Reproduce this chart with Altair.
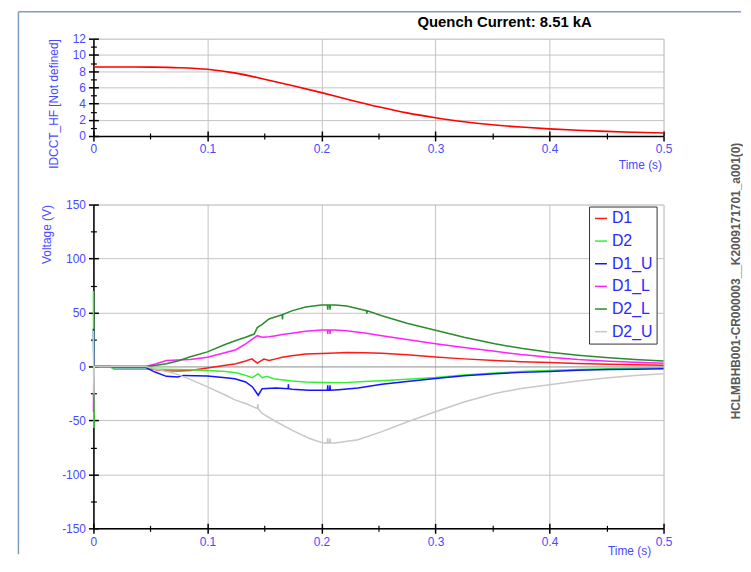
import altair as alt
import pandas as pd

FONT = "Liberation Sans"
TITLE = "Quench Current: 8.51 kA"
SIDE_TEXT = "HCLMBHB001-CR000003__K2009171701_a001(0)"

# ---------------- top panel: current ----------------
t_top = [0, 0.025, 0.05, 0.075, 0.1, 0.125, 0.15, 0.175, 0.2, 0.225, 0.25,
         0.275, 0.3, 0.325, 0.35, 0.375, 0.4, 0.425, 0.45, 0.475, 0.5]
i_top = [8.51, 8.51, 8.49, 8.42, 8.22, 7.75, 7.0, 6.2, 5.35, 4.45, 3.6,
         2.85, 2.25, 1.75, 1.38, 1.1, 0.88, 0.7, 0.57, 0.46, 0.37]

# ---------------- bottom panel: voltages ----------------
series_names = ["D1", "D2", "D1_U", "D1_L", "D2_L", "D2_U"]
series_colors = ["#ff1a1a", "#33ee33", "#1414ff", "#ff22ff", "#2a8c2a", "#c8c8c8"]

t_d1 = [0, 0.046, 0.055, 0.064, 0.074, 0.085, 0.1, 0.116, 0.125, 0.1335,
        0.139, 0.1437, 0.1495, 0.154, 0.16, 0.1655, 0.174, 0.186, 0.2,
        0.212, 0.222, 0.238, 0.253, 0.275, 0.3,
        0.325, 0.352, 0.375, 0.4, 0.425, 0.452, 0.475, 0.5]
v_d1 = [0, 0, -3, -4, -4.3, -3.7, -1.5, 1, 2.5, 5,
        7, 3, 6.8, 5.5, 7, 8.5, 10, 11.5, 12,
        12.5, 12.9, 12.7, 12.3, 10.8, 8.8,
        7, 5.5, 4.4, 3.6, 2.7, 2, 1.6, 1.2]

t_d2 = [0, 0.0004, 0.0008, 0.014, 0.018, 0.046, 0.055, 0.085, 0.1, 0.116,
        0.125, 0.1335, 0.1395, 0.1445, 0.148, 0.152, 0.158, 0.174, 0.186, 0.203,
        0.22, 0.238, 0.256, 0.275, 0.3, 0.325, 0.352, 0.375, 0.4, 0.425,
        0.452, 0.475, 0.5]
v_d2 = [70, -57, 0, 0, -2.5, -2.5, -2.5, -3, -3.7, -4.6,
        -5.8, -8.3, -10.4, -6.7, -10.4, -9.2, -11.4, -13.5, -14.4, -14.8,
        -15, -14, -13, -11.8, -10.2, -8, -6.1, -4.8, -3.7, -2.8,
        -2.1, -1.6, -1.2]

t_d1u = [0, 0.0004, 0.0008, 0.015, 0.018, 0.046, 0.054, 0.064, 0.074, 0.079,
         0.1, 0.116, 0.124, 0.1335, 0.1395, 0.1445, 0.148, 0.16, 0.1708, 0.171,
         0.1712, 0.174, 0.189, 0.203, 0.2052, 0.2055, 0.2058, 0.2072, 0.2075, 0.2078,
         0.215, 0.232, 0.253, 0.275, 0.3, 0.325, 0.352, 0.375, 0.4, 0.425,
         0.452, 0.475, 0.5]
v_d1u = [35, 0, 0, 0, -1, -1, -5.2, -9.2, -9.8, -8.3,
         -8.8, -10.5, -11.5, -14.4, -19, -26.7, -20.6, -20, -20.6, -16.5,
         -20.6, -21.2, -22, -22, -22, -17.5, -22, -22, -17.5, -22,
         -21.5, -20, -16.5, -14, -11.2, -8.6, -6.7, -5.5, -4.6, -3.6,
         -2.9, -2.5, -2.1]

t_d1l = [0, 0.0004, 0.046, 0.055, 0.064, 0.074, 0.085, 0.1, 0.116, 0.125, 0.1335,
         0.139, 0.1437, 0.148, 0.154, 0.16, 0.1655, 0.174, 0.186, 0.2,
         0.2052, 0.2055, 0.2058, 0.2072, 0.2075, 0.2078,
         0.212, 0.222, 0.238, 0.253, 0.275, 0.3,
         0.325, 0.352, 0.375, 0.4, 0.425, 0.452, 0.475, 0.5]
v_d1l = [-42, 0, 0, 2.5, 5.5, 6, 6.5, 8.6, 13, 15.5, 20.9,
         25, 28.5, 27, 27.5, 28.5, 29.5, 30.7, 32.5, 33.7,
         33.7, 30, 33.7, 33.7, 30, 33.7,
         33.7, 33, 31, 28.5, 25, 21,
         17.5, 14, 11, 8.6, 6.5, 4.9, 3.8, 3]

t_d2l = [0, 0.046, 0.055, 0.064, 0.074, 0.085, 0.1, 0.116, 0.125, 0.1335,
         0.141, 0.1437, 0.148, 0.154, 0.16, 0.1655, 0.1658, 0.1661, 0.174, 0.186,
         0.2, 0.2052, 0.2055, 0.2058, 0.2072, 0.2075, 0.2078, 0.212, 0.222, 0.238,
         0.2395, 0.2398, 0.2401, 0.253, 0.275, 0.3, 0.325, 0.352, 0.375, 0.4,
         0.425, 0.452, 0.475, 0.5]
v_d2l = [0, 0, 1, 2.5, 5, 9, 13.5, 20.5, 24, 27,
         30, 36, 39, 44, 46, 47.8, 43.5, 48, 51.5, 55,
         57, 57, 52.5, 57, 57, 52.5, 57, 57, 56, 52,
         51.5, 49, 51.5, 47, 40, 33.5, 27, 21, 16.8, 13.2,
         10.4, 8, 6.4, 5]

t_d2u = [0, 0.0004, 0.0008, 0.046, 0.055, 0.07, 0.085, 0.1, 0.116, 0.124,
         0.1335, 0.1437, 0.1442, 0.1447, 0.148, 0.16, 0.174, 0.189, 0.2, 0.2052,
         0.2055, 0.2058, 0.2072, 0.2075, 0.2078, 0.212, 0.232, 0.253, 0.275, 0.3,
         0.325, 0.352, 0.375, 0.4, 0.425, 0.452, 0.475, 0.5]
v_d2u = [33, -25, 0, 0, -2.5, -6, -12, -19, -26.7, -31,
         -34.4, -39, -35, -39.5, -43.6, -51, -59, -66.5, -70.5, -71,
         -66.5, -71, -71, -66.5, -71, -71, -68, -60.4, -51.5, -42,
         -33, -25, -20.5, -17, -13.5, -10.4, -8.4, -6.7]

series_t = {"D1": t_d1, "D2": t_d2, "D1_U": t_d1u, "D1_L": t_d1l, "D2_L": t_d2l, "D2_U": t_d2u}
series_v = {"D1": v_d1, "D2": v_d2, "D1_U": v_d1u, "D1_L": v_d1l, "D2_L": v_d2l, "D2_U": v_d2u}

# axis ticks
x_major = [0, 0.1, 0.2, 0.3, 0.4, 0.5]
x_minor = [0.05, 0.15, 0.25, 0.35, 0.45]
top_y_major = [0, 2, 4, 6, 8, 10, 12]
top_y_minor = [1, 3, 5, 7, 9, 11]
bot_y_major = [-150, -100, -50, 0, 50, 100, 150]
bot_y_minor = [-125, -75, -25, 25, 75, 125]

# ---------------- tables ----------------
top_df = pd.DataFrame({"t": t_top, "I": i_top})
rows = []
for name in series_names:
    assert len(series_t[name]) == len(series_v[name]), name
    for t, v in zip(series_t[name], series_v[name]):
        rows.append({"s": name, "t": t, "v": v})
bot_df = pd.DataFrame(rows)

AX_BLUE = "#4848ff"
GRID = "#c4c4c4"
FRAME = "#7f9cc4"


def main_axis(orient, values, fmt, title, **kw):
    return alt.Axis(orient=orient, values=values, format=fmt, title=title,
                    tickSize=5, tickWidth=1.5, tickColor="black",
                    domain=True, domainColor="black", domainWidth=1.5,
                    grid=True, gridWidth=1,
                    labels=True, labelColor=AX_BLUE, labelFontSize=12, labelFont=FONT,
                    labelPadding=3, labelFlush=False, labelOverlap=False,
                    titleColor=AX_BLUE, titleFontSize=12, titleFont=FONT,
                    titleFontWeight="normal", titleAlign="right", titleBaseline="middle",
                    **kw)


def tick_axis(orient, values, size, offset):
    return alt.Axis(orient=orient, values=values, tickSize=size, offset=offset,
                    tickWidth=1.5 if size > 4 else 1.2, tickColor="black",
                    domain=False, grid=False, labels=False, title=None)


def tick_layers(df, xf, yf, xs, ys, xmaj, xmin, ymaj, ymin):
    specs = [(xmaj, ymaj, 5, -5), (xmin, ymin, 3, 0), (xmin, ymin, 3, -3)]
    out = []
    for xv, yv, size, off in specs:
        out.append(alt.Chart(df).mark_point(opacity=0).encode(
            x=alt.X(xf, scale=xs, axis=tick_axis("bottom", xv, size, off)),
            y=alt.Y(yf, scale=ys, axis=tick_axis("left", yv, size, off))))
    return out


W = 574
# ---------------- top chart ----------------
xs_t = alt.Scale(domain=[0, 0.5], nice=False)
ys_t = alt.Scale(domain=[0, 12], nice=False, zero=False)

top_line = alt.Chart(top_df).mark_line(color="#ff0000", strokeWidth=1.6, interpolate="monotone").encode(
    x=alt.X("t:Q", scale=xs_t,
            axis=main_axis("bottom", x_major, ".1~f", "Time (s)", gridColor=GRID,
                           titleX=572, titleY=29)),
    y=alt.Y("I:Q", scale=ys_t,
            axis=main_axis("left", top_y_major, "d", "IDCCT_HF [Not defined]", gridColor=GRID,
                           titleX=-40, titleY=0)),
)
top_title = alt.Chart(pd.DataFrame({"txt": [TITLE]})).mark_text(
    fontSize=15, fontWeight="bold", color="black", font=FONT, align="center", baseline="middle"
).encode(text="txt:N", x=alt.value(414), y=alt.value(-17))

top = alt.layer(
    top_line, *tick_layers(top_df, "t:Q", "I:Q", xs_t, ys_t, x_major, x_minor, top_y_major, top_y_minor),
    top_title,
).resolve_axis(x="independent", y="independent").properties(width=W, height=98)

# ---------------- bottom chart ----------------
xs_b = alt.Scale(domain=[0, 0.5], nice=False)
ys_b = alt.Scale(domain=[-150, 150], nice=False, zero=False)
cscale = alt.Scale(domain=series_names, range=series_colors)
# the legend is placed in the concat's frame (origin = top panel's plot origin)
legend = alt.Legend(orient="none", legendX=499, legendY=169, title=None,
                    symbolType="stroke", symbolSize=144, symbolStrokeWidth=1.5,
                    labelFontSize=16, labelFont=FONT, labelColor="#2a2aff",
                    fillColor="white", strokeColor="#333333", padding=4, rowPadding=6.8,
                    labelOffset=3, labelExpr="datum.label + '\u00a0\u00a0'")

line_layers = []
for k, name in enumerate(series_names):
    if k == 0:
        xax = main_axis("bottom", x_major, ".1~f", "Time (s)", gridColor=GRID,
                        titleX=561, titleY=22)
        yax = main_axis("left", bot_y_major, "d", "Voltage (V)",
                        gridColor={"condition": {"test": "datum.value === 0", "value": "#8c8c8c"},
                                   "value": GRID},
                        labelExpr="toString(datum.value)",
                        titleX=-47, titleY=0)
    else:
        xax = None
        yax = None
    line_layers.append(
        alt.Chart(bot_df).transform_filter(alt.datum.s == name).mark_line(strokeWidth=1.5).encode(
            x=alt.X("t:Q", scale=xs_b, axis=xax),
            y=alt.Y("v:Q", scale=ys_b, axis=yax),
            color=alt.Color("s:N", scale=cscale, legend=legend),
        )
    )

one = pd.DataFrame({"k": [0]})
frame_left = alt.Chart(one).mark_rule(color=FRAME, strokeWidth=1.5).encode(
    x=alt.value(-75.5), y=alt.value(-194), y2=alt.value(352))
frame_top = alt.Chart(one).mark_rule(color=FRAME, strokeWidth=1.5).encode(
    x=alt.value(-75.5), x2=alt.value(652), y=alt.value(-194))
side = alt.Chart(pd.DataFrame({"txt": [SIDE_TEXT]})).mark_text(
    angle=270, fontSize=12, fontWeight="bold", color="#5a5a5a", font=FONT,
    align="center", baseline="middle"
).encode(text="txt:N", x=alt.value(647), y=alt.value(77))

bottom = alt.layer(
    *line_layers,
    *tick_layers(bot_df, "t:Q", "v:Q", xs_b, ys_b, x_major, x_minor, bot_y_major, bot_y_minor),
    frame_left, frame_top, side,
).resolve_axis(x="independent", y="independent").properties(width=W, height=326)

chart = alt.vconcat(top, bottom, spacing=69, bounds="flush").properties(
    padding={"left": 9, "top": 0, "right": 0, "bottom": 0}
).configure_view(stroke="black", strokeWidth=1.5).configure(font=FONT)

chart.save("out.html", embed_options={"renderer": "svg", "actions": False})
